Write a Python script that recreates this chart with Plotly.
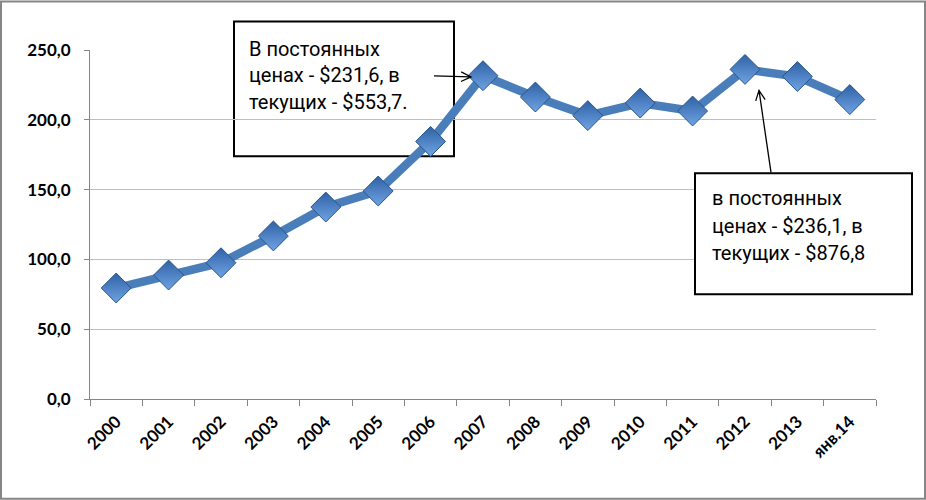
import math
import plotly.graph_objects as go

categories = ["2000", "2001", "2002", "2003", "2004", "2005", "2006", "2007",
              "2008", "2009", "2010", "2011", "2012", "2013", "янв.14"]
values = [79.5, 88.8, 97.6, 116.8, 137.5, 149.0, 184.5, 231.6,
          216.3, 203.0, 212.0, 206.3, 236.1, 231.0, 214.5]
y_ticks = [0, 50, 100, 150, 200, 250]

note1 = ["В постоянных", "ценах - $231,6, в", "текущих - $553,7."]
note2 = ["в постоянных", "ценах - $236,1, в", "текущих - $876,8"]

W, H = 926, 500
L, R, T, B = 90, 876, 49.5, 399


def px(x):
    return (x - L) / (R - L)


def py(y):
    return (B - y) / (B - T)


fig = go.Figure()
fig.add_trace(go.Scatter(
    x=categories, y=values, mode="lines+markers",
    line=dict(color="#4A7EBB", width=8.5),
    marker=dict(symbol="diamond", size=23, color="#2F62A6",
                gradient=dict(type="vertical", color="#6FA3E3"),
                line=dict(color="#2A5488", width=1)),
    hoverinfo="x+y", showlegend=False,
))

shapes = []
shapes.append(dict(type="rect", xref="paper", yref="paper",
                   x0=px(1), x1=px(W - 1), y0=py(1), y1=py(H - 1),
                   line=dict(color="#868686", width=2), fillcolor="rgba(0,0,0,0)"))
shapes.append(dict(type="rect", xref="paper", yref="paper",
                   x0=px(234), x1=px(454), y0=py(21), y1=py(156),
                   line=dict(color="black", width=2), fillcolor="white", layer="below"))
shapes.append(dict(type="rect", xref="paper", yref="paper",
                   x0=px(695), x1=px(912), y0=py(173), y1=py(294),
                   line=dict(color="black", width=2), fillcolor="white"))


def arrow(x0, y0, x1, y1):
    ang = math.atan2(y1 - y0, x1 - x0)
    hl = 11
    spread = 0.45
    ax1 = x1 - hl * math.cos(ang - spread)
    ay1 = y1 - hl * math.sin(ang - spread)
    ax2 = x1 - hl * math.cos(ang + spread)
    ay2 = y1 - hl * math.sin(ang + spread)
    path = (f"M{px(x0)},{py(y0)} L{px(x1)},{py(y1)} "
            f"M{px(ax1)},{py(ay1)} L{px(x1)},{py(y1)} L{px(ax2)},{py(ay2)}")
    return dict(type="path", xref="paper", yref="paper", path=path,
                line=dict(color="black", width=1.3))


shapes.append(arrow(434, 75.5, 471, 76.5))
shapes.append(arrow(771, 172, 759, 90))

annotations = []
for i, t in enumerate(note1):
    annotations.append(dict(text=t, xref="paper", yref="paper", x=px(247), y=py(48 + 27 * i),
                            xanchor="left", yanchor="middle", showarrow=False,
                            font=dict(family="Roboto", size=20, color="black")))
for i, t in enumerate(note2):
    annotations.append(dict(text=t, xref="paper", yref="paper", x=px(710), y=py(198 + 27.5 * i),
                            xanchor="left", yanchor="middle", showarrow=False,
                            font=dict(family="Roboto", size=20, color="black")))

fig.update_layout(
    width=W, height=H,
    margin=dict(l=L, r=W - R, t=T, b=H - B),
    paper_bgcolor="white", plot_bgcolor="white",
    separators=", ",
    shapes=shapes, annotations=annotations,
    xaxis=dict(type="category", tickangle=-45, showgrid=False,
               showline=True, linecolor="#868686", linewidth=1,
               ticks="outside", tickson="boundaries", ticklen=6, tickcolor="#868686",
               ticklabelstandoff=5,
               tickfont=dict(family="Lato", size=17, color="black", weight="bold"),
               range=[-0.5, len(categories) - 0.5]),
    yaxis=dict(range=[0, 250], tickvals=y_ticks, tickformat=".1f",
               showgrid=True, gridcolor="#BFBFBF", gridwidth=1,
               showline=True, linecolor="#868686", linewidth=1,
               ticks="outside", ticklen=5, tickcolor="#868686",
               ticklabelstandoff=10, zeroline=False,
               tickfont=dict(family="Lato", size=17, color="black", weight="bold")),
)

fig.write_html("out.html", config={"displayModeBar": False},
               post_script="document.body.style.margin='0';")
